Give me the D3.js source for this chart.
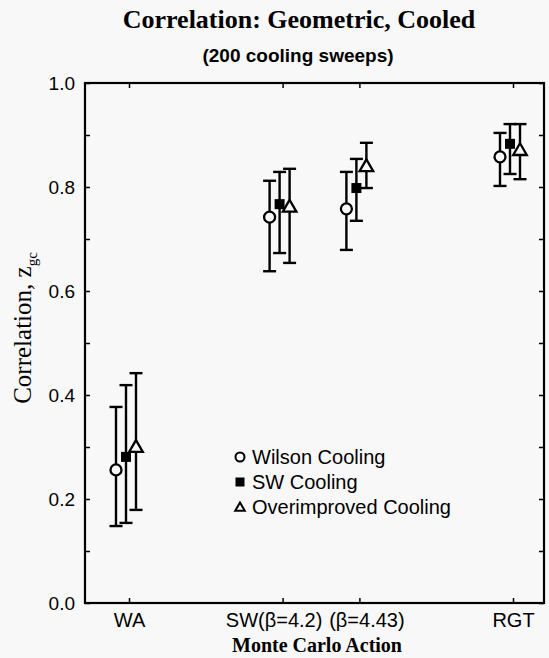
<!DOCTYPE html>
<html>
<head>
<meta charset="utf-8">
<script src="https://cdn.jsdelivr.net/npm/d3@7"></script>
<style>
  body { margin: 0; background: #f8f8f8; }
  svg { display: block; }
</style>
</head>
<body>
<div id="chart"></div>
<script>
// categories along the x axis (position is in "category units")
var categories = ['WA', 'SW(\u03b2=4.2)', '(\u03b2=4.43)', 'RGT'];
var catPos = [0, 1, 1.5, 2.5];

var seriesNames = ['Wilson Cooling', 'SW Cooling', 'Overimproved Cooling'];

// value, low, high  per category
var wilsonVal  = [0.256, 0.742, 0.758, 0.858];
var wilsonLo   = [0.148, 0.638, 0.679, 0.802];
var wilsonHi   = [0.377, 0.812, 0.829, 0.904];

var swVal      = [0.281, 0.767, 0.798, 0.883];
var swLo       = [0.154, 0.673, 0.735, 0.825];
var swHi       = [0.419, 0.829, 0.854, 0.921];

var overVal    = [0.300, 0.762, 0.840, 0.871];
var overLo     = [0.179, 0.654, 0.798, 0.815];
var overHi     = [0.442, 0.835, 0.885, 0.921];

var yTicks = [0, 0.1, 0.2, 0.3, 0.4, 0.5, 0.6, 0.7, 0.8, 0.9, 1.0];

var W = 549, H = 658;
var pl = 85, pr = 544, pt = 83, pb = 603;

var svg = d3.select('#chart').append('svg')
  .attr('width', W).attr('height', H);

var x = d3.scaleLinear().domain([0, 2.5]).range([129, 513]);
var y = d3.scaleLinear().domain([0, 1]).range([pb, pt]);

// frame
svg.append('rect')
  .attr('x', pl).attr('y', pt)
  .attr('width', pr - pl).attr('height', pb - pt)
  .attr('fill', 'none').attr('stroke', '#000').attr('stroke-width', 2.2);

// axes
var yLeft = d3.axisLeft(y).tickValues(yTicks).tickSizeInner(-5).tickSizeOuter(0)
  .tickFormat(function(d) { return Math.round(d * 10) % 2 === 0 ? d3.format('.1f')(d) : ''; });
var gl = svg.append('g').attr('transform', 'translate(' + pl + ',0)').call(yLeft);

var yRight = d3.axisRight(y).tickValues(yTicks).tickSizeInner(-5).tickSizeOuter(0).tickFormat('');
var gr = svg.append('g').attr('transform', 'translate(' + pr + ',0)').call(yRight);

var xBottom = d3.axisBottom(x).tickValues(catPos).tickSizeInner(-5).tickSizeOuter(0)
  .tickFormat(function(d, i) { return categories[i]; });
var gb = svg.append('g').attr('transform', 'translate(0,' + pb + ')').call(xBottom);

var xTop = d3.axisTop(x).tickValues(catPos).tickSizeInner(-5).tickSizeOuter(0).tickFormat('');
var gt = svg.append('g').attr('transform', 'translate(0,' + pt + ')').call(xTop);

[gl, gr, gb, gt].forEach(function(g) {
  g.select('.domain').remove();
  g.selectAll('.tick line').attr('stroke', '#000').attr('stroke-width', 1.5);
});

gl.selectAll('.tick text')
  .attr('font-family', 'Liberation Sans, Arial, sans-serif')
  .attr('font-size', 19).attr('fill', '#000')
  .attr('x', -10);

var labelShift = [0, -9, 7, 0];
gb.selectAll('.tick text')
  .attr('font-family', 'Liberation Sans, Arial, sans-serif')
  .attr('font-size', 20).attr('fill', '#000')
  .attr('y', 10)
  .attr('dx', function(d, i) { return labelShift[i]; });

// series
var series = [
  { name: seriesNames[0], val: wilsonVal, lo: wilsonLo, hi: wilsonHi, shape: 'circle', off: -13 },
  { name: seriesNames[1], val: swVal, lo: swLo, hi: swHi, shape: 'square', off: -3 },
  { name: seriesNames[2], val: overVal, lo: overLo, hi: overHi, shape: 'triangle', off: 7 }
];

function drawMarker(g, shape, cx, cy) {
  if (shape === 'circle') {
    g.append('circle').attr('cx', cx).attr('cy', cy).attr('r', 5.5)
      .attr('fill', '#f8f8f8').attr('stroke', '#000').attr('stroke-width', 2.3);
  } else if (shape === 'square') {
    g.append('rect').attr('x', cx - 5).attr('y', cy - 5)
      .attr('width', 10).attr('height', 10).attr('fill', '#000');
  } else {
    g.append('path')
      .attr('d', d3.symbol().type(d3.symbolTriangle).size(80)())
      .attr('transform', 'translate(' + cx + ',' + (cy + 1) + ')')
      .attr('fill', '#f8f8f8').attr('stroke', '#000').attr('stroke-width', 2.3);
  }
}

series.forEach(function(s) {
  var g = svg.append('g');
  catPos.forEach(function(p, i) {
    var cx = x(p) + s.off;
    g.append('line')
      .attr('x1', cx).attr('x2', cx)
      .attr('y1', y(s.lo[i])).attr('y2', y(s.hi[i]))
      .attr('stroke', '#000').attr('stroke-width', 2.4);
    [s.lo[i], s.hi[i]].forEach(function(v) {
      g.append('line')
        .attr('x1', cx - 6.5).attr('x2', cx + 6.5)
        .attr('y1', y(v)).attr('y2', y(v))
        .attr('stroke', '#000').attr('stroke-width', 2.4);
    });
    drawMarker(g, s.shape, cx, y(s.val[i]));
  });
});

// legend
var legend = svg.append('g').attr('transform', 'translate(240,457)');
series.forEach(function(s, i) {
  var gi = legend.append('g').attr('transform', 'translate(0,' + (i * 25) + ')');
  if (s.shape === 'circle') {
    gi.append('circle').attr('r', 4.5).attr('fill', 'none').attr('stroke', '#000').attr('stroke-width', 2);
  } else if (s.shape === 'square') {
    gi.append('rect').attr('x', -4.5).attr('y', -4.5).attr('width', 9).attr('height', 9).attr('fill', '#000');
  } else {
    gi.append('path').attr('d', d3.symbol().type(d3.symbolTriangle).size(40)())
      .attr('transform', 'translate(0,1)')
      .attr('fill', 'none').attr('stroke', '#000').attr('stroke-width', 2);
  }
  gi.append('text').attr('x', 12).attr('y', 7)
    .attr('font-family', 'Liberation Sans, Arial, sans-serif')
    .attr('font-size', 20).text(s.name);
});

// titles
svg.append('text').attr('x', 299).attr('y', 28).attr('text-anchor', 'middle')
  .attr('font-family', 'Liberation Serif, Times New Roman, serif')
  .attr('font-weight', 'bold').attr('font-size', 26)
  .text('Correlation: Geometric, Cooled');

svg.append('text').attr('x', 298).attr('y', 62).attr('text-anchor', 'middle')
  .attr('font-family', 'Liberation Sans, Arial, sans-serif')
  .attr('font-weight', 'bold').attr('font-size', 19)
  .text('(200 cooling sweeps)');

svg.append('text').attr('x', 317).attr('y', 652).attr('text-anchor', 'middle')
  .attr('font-family', 'Liberation Serif, Times New Roman, serif')
  .attr('font-weight', 'bold').attr('font-size', 20)
  .text('Monte Carlo Action');

var yl = svg.append('text')
  .attr('transform', 'translate(31,328) rotate(-90)')
  .attr('text-anchor', 'middle')
  .attr('font-family', 'Liberation Serif, Times New Roman, serif')
  .attr('font-size', 25);
yl.append('tspan').text('Correlation, z');
yl.append('tspan').attr('font-size', 15).attr('dy', 6).text('gc');
</script>
</body>
</html>
